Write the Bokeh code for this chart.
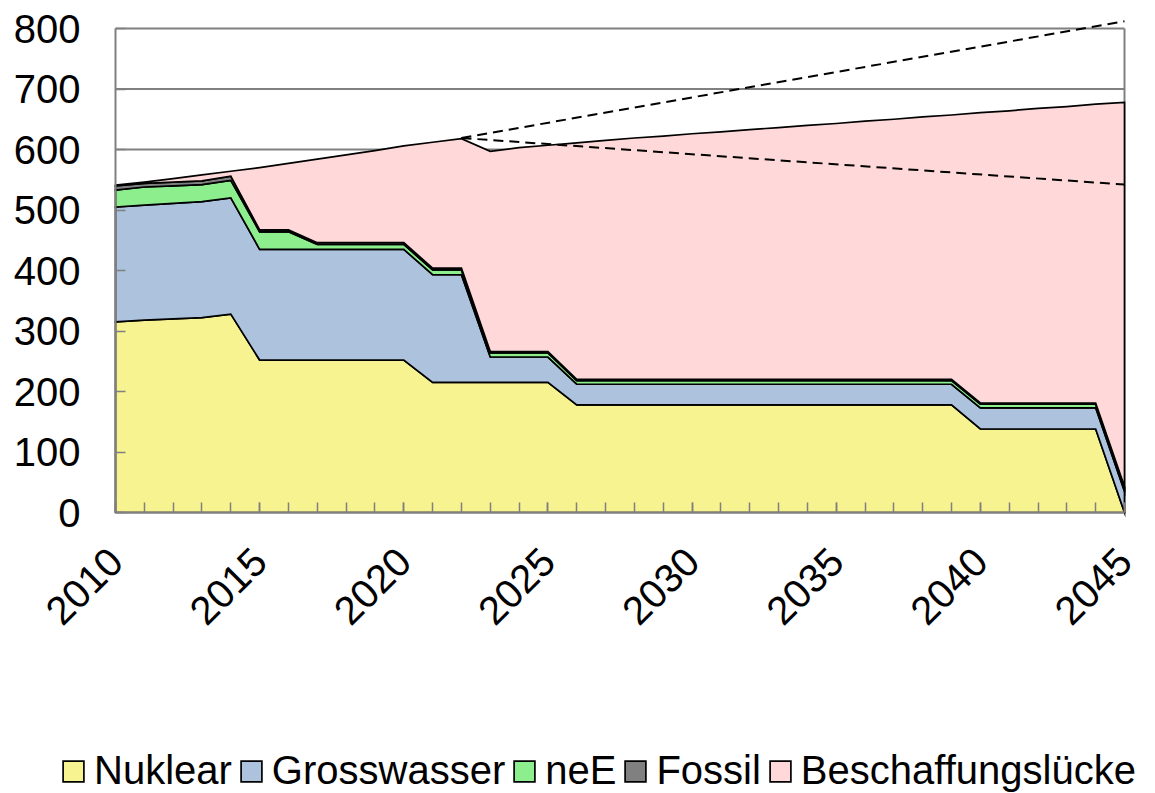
import math
from bokeh.plotting import figure
from bokeh.models import Range1d, FixedTicker, Legend, LegendItem
from bokeh.embed import file_html
from bokeh.resources import INLINE

# ---------------- data ----------------
years = list(range(2010, 2046))

nuklear = [315, 318, 320, 322, 328,
           252, 252, 252, 252, 252, 252,
           215, 215, 215, 215, 215,
           178, 178, 178, 178, 178, 178, 178, 178, 178, 178, 178, 178, 178, 178,
           138, 138, 138, 138, 138,
           0]

grosswasser = [190, 190, 191, 192, 192,
               183, 183, 183, 183, 183, 183,
               178, 178,
               42, 42, 42,
               34, 34, 34, 34, 34, 34, 34, 34, 34, 34, 34, 34, 34, 34,
               35, 35, 35, 35, 35,
               35]

neE = [28, 30, 29, 28, 29, 29, 29,
       8, 8, 8, 8, 8, 8,
       7, 7, 7,
       6, 6, 6, 6, 6, 6, 6, 6, 6, 6, 6, 6, 6, 6, 6, 6, 6, 6, 6, 6]

fossil = [7, 6, 6, 6, 7,
          3, 3, 3, 3, 3, 3, 3, 3,
          2, 2, 2, 2, 2, 2, 2, 2, 2, 2, 2, 2, 2, 2, 2, 2, 2, 2, 2, 2, 2, 2, 2]

# total need (upper edge of the "Beschaffungslücke" area)
bedarf = [541, 546, 552, 558, 564, 570, 577, 584, 591, 598, 606, 612, 618,
          597, 603, 607, 611, 615, 619, 622, 626, 629, 633, 636, 640, 643,
          647, 650, 654, 657, 661, 664, 668, 671, 675, 678]

# dashed scenario lines
scen_years = [2022, 2045]
scen_high = [619, 812]
scen_low = [619, 542]

series_names = ["Nuklear", "Grosswasser", "neE", "Fossil", "Beschaffungslücke"]
series_colors = ["#F7F391", "#ADC2DD", "#8DEE8D", "#808080", "#FFD9D9"]

y_ticks = [0, 100, 200, 300, 400, 500, 600, 700, 800]
x_ticks = [2010, 2015, 2020, 2025, 2030, 2035, 2040, 2045]

# ---------------- build stacked layers ----------------
supply = [nuklear, grosswasser, neE, fossil]
stack_top = [sum(v) for v in zip(*supply)]
luecke = [b - s for b, s in zip(bedarf, stack_top)]
layers = supply + [luecke]

FONT = "Liberation Sans"
GRAY = "#808080"

# ---------------- geometry: the frame fills the whole canvas ----------------
W, H = 1152, 793
PLOT_L, PLOT_R, PLOT_T, PLOT_B = 115, 1124, 28, 512   # pixel box of the chart
px_year = (PLOT_R - PLOT_L) / (years[-1] - years[0])
px_unit = (PLOT_B - PLOT_T) / (y_ticks[-1] - y_ticks[0])
x_start = years[0] - PLOT_L / px_year
x_end = years[-1] + (W - PLOT_R) / px_year
y_start = y_ticks[0] - (H - PLOT_B) / px_unit
y_end = y_ticks[-1] + PLOT_T / px_unit

p = figure(width=W, height=H, output_backend="svg", toolbar_location=None,
           x_range=Range1d(x_start, x_end), y_range=Range1d(y_start, y_end),
           min_border_left=0, min_border_right=0, min_border_top=0,
           min_border_bottom=0)
p.outline_line_color = None
p.background_fill_color = "white"
p.border_fill_color = "white"
p.xgrid.visible = False
p.ygrid.visible = False

# horizontal grid lines (incl. top border) and right border
grid_levels = y_ticks[1:]
p.segment(x0=[years[0]] * len(grid_levels), y0=grid_levels,
          x1=[years[-1]] * len(grid_levels), y1=grid_levels,
          line_color=GRAY, line_width=2)
p.segment(x0=[years[-1]], y0=[y_ticks[0]], x1=[years[-1]], y1=[y_ticks[-1]],
          line_color=GRAY, line_width=2)

bottom = [0] * len(years)
renderers = []
for vals, col in zip(layers, series_colors):
    top = [b + v for b, v in zip(bottom, vals)]
    xs = years + years[::-1]
    ys = top + bottom[::-1]
    r = p.patch(xs, ys, fill_color=col, line_color="black", line_width=1.7,
                line_join="miter")
    renderers.append(r)
    bottom = top

p.line(scen_years, scen_high, line_color="black", line_width=2, line_dash="10 6")
p.line(scen_years, scen_low, line_color="black", line_width=2, line_dash="10 6")

# axes, fixed at the chart's origin
for ax in (p.xaxis[0], p.yaxis[0]):
    ax.axis_line_color = GRAY
    ax.axis_line_width = 2
    ax.major_tick_line_color = GRAY
    ax.major_tick_line_width = 1.5
    ax.minor_tick_line_color = GRAY
    ax.minor_tick_line_width = 1.5
    ax.major_tick_in = 10
    ax.major_tick_out = 0
    ax.minor_tick_in = 10
    ax.minor_tick_out = 0
    ax.major_label_text_font = FONT
    ax.major_label_text_color = "black"

p.yaxis.fixed_location = years[0]
p.yaxis.ticker = FixedTicker(ticks=y_ticks, minor_ticks=[])
p.yaxis.bounds = (y_ticks[0], y_ticks[-1])
p.yaxis.major_label_text_font_size = "40px"
p.yaxis.major_label_standoff = 35

p.xaxis.fixed_location = y_ticks[0]
p.xaxis.ticker = FixedTicker(ticks=x_ticks, minor_ticks=years)
p.xaxis.bounds = (years[0], years[-1])
p.xaxis.major_label_text_font_size = "40px"
p.xaxis.major_label_orientation = math.pi / 4
p.xaxis.major_label_standoff = 42

legend = Legend(items=[LegendItem(label=n, renderers=[r])
                       for n, r in zip(series_names, renderers)],
                orientation="horizontal", location=(60, 0),
                label_text_font=FONT, label_text_font_size="40px",
                label_text_color="black",
                glyph_width=26, glyph_height=26, label_standoff=8,
                spacing=6, padding=0, margin=0,
                border_line_color=None, background_fill_alpha=0)
p.add_layout(legend)

open("out.html", "w").write(file_html(p, INLINE))
